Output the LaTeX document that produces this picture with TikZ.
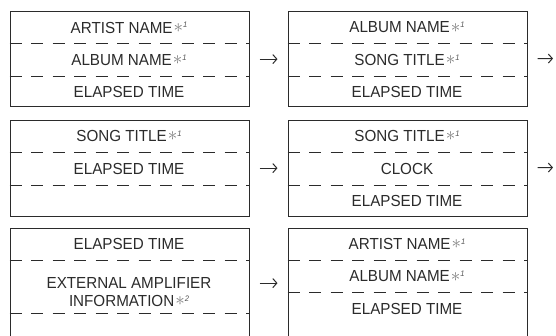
\documentclass[tikz,border=0pt]{standalone}
\usepackage{fontspec}
\setmainfont{Liberation Sans}[FakeStretch=0.95]
\usetikzlibrary{arrows.meta,calc}
\definecolor{ink}{HTML}{2B2B2B}
\newcommand{\fnmark}[1]{\hspace{1pt}{\color{ink!60}\raisebox{0.1ex}{\scalebox{1.1}{$\ast$}}}\raisebox{0.6ex}{\fontsize{8}{8}\selectfont\itshape\color{ink!80}#1}}
\begin{document}
\begin{tikzpicture}[x=1pt,y=-1pt,
  frame/.style={draw=ink,line width=1.2pt,minimum width=239pt,inner sep=0pt,anchor=north west},
  sep/.style={draw=ink,line width=0.9pt,dash pattern=on 12pt off 9.5pt},
  lbl/.style={text=ink,font=\fontsize{16}{18}\selectfont,inner sep=0pt},
  flow/.style={draw=ink,line width=1pt,-{Straight Barb[length=4pt,width=9pt]},shorten <=10pt,shorten >=10pt}]
\useasboundingbox (0,0) rectangle (556,335);
\clip (0,0) rectangle (556,335);
% boxes
\node[frame,minimum height=95pt] (b1) at (9.5,11) {};
\node[frame,minimum height=95pt] (b2) at (287.5,11) {};
\node[frame,minimum height=96pt] (b3) at (9.5,119.5) {};
\node[frame,minimum height=96pt] (b4) at (287.5,119.5) {};
\node[frame,minimum height=110pt] (b5) at (9.5,227.5) {};
\node[frame,minimum height=110pt] (b6) at (287.5,227.5) {};
% separators
\draw[sep] ($(b1.north west)+(0,32.5)$) -- ($(b1.north east)+(0,32.5)$);
\draw[sep] ($(b1.north west)+(0,65)$) -- ($(b1.north east)+(0,65)$);
\draw[sep] ($(b2.north west)+(0,32.5)$) -- ($(b2.north east)+(0,32.5)$);
\draw[sep] ($(b2.north west)+(0,65)$) -- ($(b2.north east)+(0,65)$);
\draw[sep] ($(b3.north west)+(0,32.5)$) -- ($(b3.north east)+(0,32.5)$);
\draw[sep] ($(b3.north west)+(0,65.5)$) -- ($(b3.north east)+(0,65.5)$);
\draw[sep] ($(b4.north west)+(0,32.5)$) -- ($(b4.north east)+(0,32.5)$);
\draw[sep] ($(b4.north west)+(0,65.5)$) -- ($(b4.north east)+(0,65.5)$);
\draw[sep] ($(b5.north west)+(0,32.5)$) -- ($(b5.north east)+(0,32.5)$);
\draw[sep] ($(b5.north west)+(0,86)$) -- ($(b5.north east)+(0,86)$);
\draw[sep] ($(b6.north west)+(0,32.5)$) -- ($(b6.north east)+(0,32.5)$);
\draw[sep] ($(b6.north west)+(0,65)$) -- ($(b6.north east)+(0,65)$);
% labels
\node[lbl] (l11) at (129,27.5) {ARTIST NAME\fnmark{1}};
\node[lbl] (l12) at (129,60) {ALBUM NAME\fnmark{1}};
\node[lbl] (l13) at (129,92) {ELAPSED TIME};
\node[lbl] (l21) at (407,27.5) {ALBUM NAME\fnmark{1}};
\node[lbl] (l22) at (407,60) {SONG TITLE\fnmark{1}};
\node[lbl] (l23) at (407,92) {ELAPSED TIME};
\node[lbl] (l31) at (129,136) {SONG TITLE\fnmark{1}};
\node[lbl] (l32) at (129,168.5) {ELAPSED TIME};
\node[lbl] (l41) at (407,136) {SONG TITLE\fnmark{1}};
\node[lbl] (l42) at (407,168.5) {CLOCK};
\node[lbl] (l43) at (407,200.5) {ELAPSED TIME};
\node[lbl] (l51) at (129,244) {ELAPSED TIME};
\node[lbl,align=center] (l52) at (129,292) {EXTERNAL AMPLIFIER\\INFORMATION\fnmark{2}};
\node[lbl] (l61) at (407,244) {ARTIST NAME\fnmark{1}};
\node[lbl] (l62) at (407,276.5) {ALBUM NAME\fnmark{1}};
\node[lbl] (l63) at (407,309) {ELAPSED TIME};
% arrows
\coordinate (o2) at (563,58.5);
\coordinate (o4) at (563,167.5);
\draw[flow] (b1) -- (b2);
\draw[flow] (b2) -- (o2);
\draw[flow] (b3) -- (b4);
\draw[flow] (b4) -- (o4);
\draw[flow] (b5) -- (b6);
\end{tikzpicture}
\end{document}
